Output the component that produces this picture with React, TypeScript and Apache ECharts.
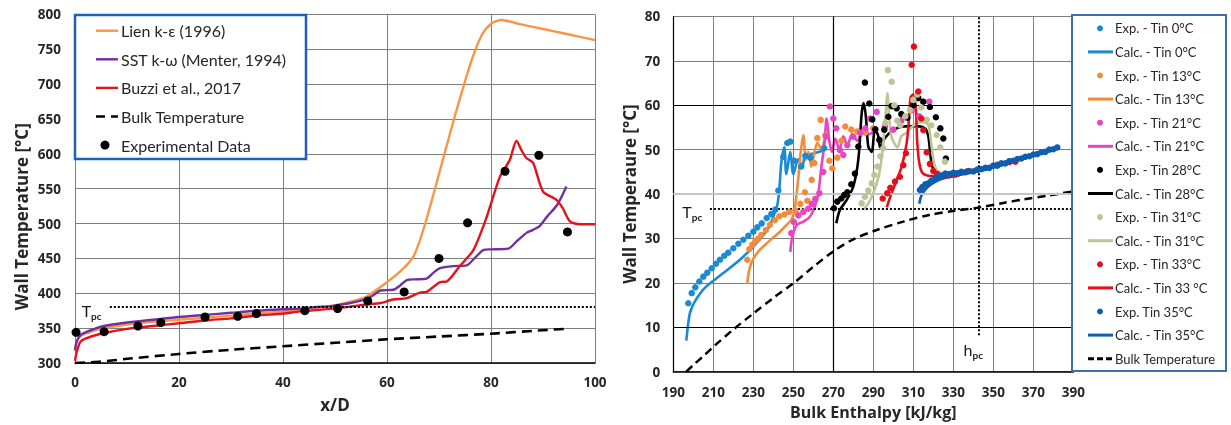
import React, { useEffect, useRef } from "react";
import * as echarts from "echarts";

const FONT = "Lato, 'Noto Sans', sans-serif";
const BOLD_FONT = "'Open Sans', 'Noto Sans', sans-serif";
const AXIS_TEXT = "#262626";
const GRID_GREY = "#7f7f7f";

// ---------- Left panel: wall temperature along the tube (x/D) ----------
const xdRange = { min: 0, max: 100, step: 20 };
const twRange = { min: 300, max: 800, step: 50 };

const lienKE: number[][] = [
  [0, 318], [0.3, 330], [1, 338], [2, 342], [5, 349], [10, 355], [15, 359], [20, 362],
  [25, 365], [30, 368], [35, 371], [40, 374], [45, 378], [50, 383], [53, 388], [56, 395],
  [59.3, 412], [62.5, 431], [65.1, 453], [67.1, 494], [69.6, 560], [72.7, 645], [76, 728],
  [78.2, 770], [80.1, 787], [82, 792], [85.6, 786], [90, 779], [93.9, 773], [100, 763],
];
const sstKW: number[][] = [
  [0, 318], [0.3, 330], [1, 340], [2, 344], [5, 352], [10, 358], [15, 362], [20, 366],
  [25, 369], [30, 372], [35, 375], [40, 377], [43.3, 378], [46, 380], [49.7, 382], [53, 386],
  [56.1, 392], [57.5, 398], [58.7, 404], [61.2, 405], [62.5, 411], [63.8, 419], [65.5, 420],
  [67.6, 421], [69, 430], [70.2, 436], [72.7, 439], [75.3, 440], [76.8, 450], [78.5, 462],
  [80, 463], [83.3, 464], [85, 475], [86.9, 487], [88.1, 491], [89.3, 496], [91, 512],
  [92, 520], [93, 530], [94.5, 553],
];
const buzzi: number[][] = [
  [0, 303], [0.3, 315], [1, 330], [2, 335], [5, 342], [10, 349], [15, 353], [20, 357],
  [25, 361], [30, 364], [35, 368], [40, 371], [43.3, 374], [49.7, 378], [54, 382], [56.1, 384],
  [58.7, 386], [61.2, 391], [63.8, 393], [66.3, 401], [67.6, 402], [70.2, 416], [71.5, 417],
  [74, 439], [76.6, 462], [79.1, 508], [81.7, 567], [83.6, 591], [84.9, 619], [85.8, 606],
  [86.8, 594], [88.1, 587], [90, 546], [92.6, 534], [93.8, 522], [95.2, 503], [97.1, 499],
  [100, 499],
];
const bulkLeft: number[][] = [
  [0, 300], [5, 302], [10, 306], [20, 313], [30, 319], [40, 324], [50, 329], [60, 334],
  [70, 338], [80, 342], [90, 347], [94.5, 349],
];
const expLeft: number[][] = [
  [0.2, 344], [5.6, 345], [12.1, 353], [16.5, 358], [25, 366], [31.3, 367], [34.9, 371],
  [44.2, 375], [50.5, 378], [56.3, 389], [63.3, 402], [70, 450], [75.5, 501], [82.7, 575],
  [89.2, 598], [94.7, 488],
];
const tpcLeft = 381;
const tpcLeftFrom = 6.7;
const tpcLeftLabelAt = [3.2, 376];

// ---------- Right panel: wall temperature vs bulk enthalpy ----------
const hRange = { min: 190, max: 390, step: 20 };
const twRangeR = { min: 0, max: 80, step: 10 };

const exp0: number[][] = [
  [197.5, 15.4], [199.2, 17.7], [201, 19], [203, 20.3], [205, 21.4], [207, 22.3], [209.2, 23.3],
  [211.3, 24.3], [213.3, 25.2], [215.5, 26.1], [217.5, 26.8], [220, 27.8], [222.5, 28.8],
  [225, 29.7], [227.5, 30.6], [230, 31.5], [232, 32.5], [234.2, 33.4], [236.7, 34.6],
  [239, 35.5], [241, 36.5], [242.5, 40.8], [245, 48.4], [247, 51.5], [248.5, 51.8],
  [250.5, 47.5], [254, 46.2], [256, 48.6], [258.5, 48.2], [265.5, 50.3],
];
const calc0: number[][] = [
  [196.5, 7], [197.5, 11], [198.5, 13.5], [201, 16], [206, 19], [215, 22.2], [225, 25.9],
  [233, 29.7], [238, 32.7], [240.5, 35.5], [242, 37.5], [243, 41], [244, 47], [245.5, 50.5],
  [246.5, 44.5], [248.5, 49.5], [250, 44.5], [252.5, 47.8], [254.5, 46.2], [256, 48.8],
  [259, 49], [265, 49.8],
];
const exp13: number[][] = [
  [227, 25.2], [228, 27.6], [229.5, 28.6], [231, 29.4], [232.5, 30], [234, 30.8], [236.3, 31.9],
  [238.3, 33.1], [240.8, 34.1], [243, 35], [245.5, 35.4], [248, 36], [251, 36.3], [253.5, 37.8],
  [255.8, 40.4], [257, 38.5], [259.2, 43.2], [260.5, 47], [262, 52.6], [263.7, 56.7],
  [266, 53.2], [268, 47.5], [269.5, 45.8], [272, 48.2], [274, 52], [276, 55.2], [279, 54.5],
  [282, 54.1], [286, 53.8], [290, 54.8],
];
const calc13: number[][] = [
  [227, 19.8], [227.6, 22], [228.5, 23.8], [230, 25.4], [233, 27.3], [236.7, 28.9], [240, 30.2],
  [243.3, 31.5], [246.5, 33], [249, 34.2], [250.5, 36], [251.3, 38.7], [252.5, 43.6],
  [253.7, 49.5], [255, 53.3], [256.3, 47.7], [257.5, 49.5], [259, 46.2], [260.5, 49.2],
  [262, 51.5], [264, 50.2], [266, 52.5], [268, 53],
];
const exp21: number[][] = [
  [249, 31.2], [250.3, 33.7], [252.5, 35.2], [255, 36], [257.5, 36.7], [259.2, 37.8], [261, 38.9],
  [263, 40.2], [265, 45], [266.5, 53], [268.3, 59.7], [270, 57], [271.5, 54.8], [273.3, 49.9],
  [275, 48.8], [277, 51], [280, 52.9], [283.5, 53.8], [286, 54.8], [288.3, 57], [291.7, 58.5],
  [295.8, 55.2], [300, 54.5], [304, 56.5], [309.2, 58.9], [313, 57.5], [318, 60.8],
];
const calc21: number[][] = [
  [248.5, 27], [249.5, 30.4], [251.7, 33], [255, 33.8], [258.3, 34.9], [260.8, 37.2],
  [262.5, 40.2], [264, 46], [265.5, 51], [266.7, 57], [268, 52], [269.3, 49.5], [271, 52.5],
  [273, 50], [275, 53], [277, 51], [279.5, 53.5], [282, 52], [285, 54], [288, 53.5], [291, 54.5],
];
const exp28: number[][] = [
  [270.3, 36.8], [272, 38.3], [274, 39], [275.5, 39.8], [277, 40.4], [279, 42.2], [280.8, 44.6],
  [282.5, 50.7], [285.8, 65.1], [288, 60.4], [289.5, 56.8], [291, 54.6], [293, 52.2],
  [295.5, 54.5], [297.5, 57.4], [299.2, 59.8], [301.7, 59.3], [304, 58], [307, 57.2], [310, 60],
  [312.5, 61.6], [315, 60.8], [318.3, 59.6], [321.3, 57.3], [323.5, 54.8], [325, 52.5],
  [326.3, 48],
];
const calc28: number[][] = [
  [271.5, 33.4], [273.3, 36.4], [276.7, 38.7], [280, 41.7], [282.5, 47.7], [284.2, 58.2],
  [285.2, 60.5], [286.3, 57.4], [287.5, 50.7], [289.2, 49.5], [290.8, 54.4], [292.3, 53.3],
  [293.5, 50.5], [295.8, 52.6], [300, 54.4], [305, 55.2], [311.7, 55.3], [315.8, 54.8],
  [317.5, 53], [318.5, 49], [319.5, 46.2], [321, 45], [326, 44.4], [331, 44.3],
];
const exp31: number[][] = [
  [284.2, 37.9], [285.8, 39.4], [287.5, 40.8], [289.2, 42.4], [290.5, 44.3], [292, 46.2],
  [293.5, 48.5], [295, 50.3], [296, 56], [297.3, 67.9], [299.2, 65.3], [300.5, 60], [302, 56.5],
  [303.5, 55.5], [306, 57.5], [308.3, 58.9], [310, 61.2], [312, 62.4], [314, 59.5],
  [316.7, 56.7], [319, 55.5], [321.7, 53.3], [323.5, 50.5], [325.8, 47.3],
];
const calc31: number[][] = [
  [285, 36.4], [287.5, 37.9], [290, 40.2], [292.5, 43.7], [294, 47.5], [295.2, 52.5],
  [296.2, 58], [297, 62.7], [298, 57], [299, 53], [300.5, 51.4], [302, 50.5], [304, 53],
  [306.7, 53.8], [309, 55], [312, 56], [315, 56.2], [317.5, 55.5], [318.8, 52], [320, 48],
  [321.5, 45.5], [325, 44.6], [330, 44.3],
];
const exp33: number[][] = [
  [294.7, 39], [297, 40.2], [298.5, 41.4], [300.8, 42.8], [303.3, 43.9], [305, 46.5],
  [306.3, 49.2], [309.2, 69.1], [310.3, 73.2], [312.5, 63.1], [314, 57], [315, 54.4],
  [316.7, 49.4], [318.3, 46.8], [320, 45.2], [322, 44.5], [326, 44.2], [331, 44.4],
  [337, 45.1], [352, 46.6], [358, 47.2], [361, 47.3],
];
const calc33: number[][] = [
  [296.7, 37], [299, 40], [301.7, 43.2], [304.2, 46.2], [306.7, 51.5], [307.8, 56.7],
  [308.7, 61.8], [310, 62.4], [311.2, 59.5], [312, 51.5], [313, 47], [314.5, 44.8], [317, 44.2],
  [322, 44], [327, 43.8], [333, 44.2],
];
const exp35: number[][] = [
  [313.3, 40.9], [314.5, 41.6], [316, 42.2], [317.5, 42.4], [319, 43], [320.5, 43.3], [322, 43.9],
  [324, 44.1], [326, 44.6], [328, 44.5], [330, 44.8], [332, 44.7], [334, 45], [336, 44.9],
  [338, 45.2], [340, 45.1], [342, 45.5], [344, 45.6], [346, 45.9], [348, 45.9], [350, 46.4],
  [352, 46.4], [354, 46.9], [356, 46.9], [358, 47.4], [360, 47.5], [362, 47.9], [364, 48],
  [366, 48.4], [368, 48.5], [370, 48.9], [372, 49], [374, 49.4], [376, 49.5], [378, 50],
  [380, 50.1], [382, 50.5],
];
const calc35: number[][] = [
  [313, 37.8], [314, 39.6], [316, 41], [319, 42.2], [323, 43.2], [328, 43.9], [333, 44.3],
  [340, 44.9], [346, 45.5], [352, 46.2], [358, 47], [364, 47.8], [370, 48.6], [376, 49.4],
  [382, 50.2],
];
const bulkRight: number[][] = [
  [196.5, 0], [200, 1.5], [205, 3.5], [210, 5.6], [220, 9.5], [230, 13.1], [240, 16.6],
  [250, 19.9], [260, 23.6], [270, 27.1], [280, 29.8], [291.7, 31.9], [305, 33.8], [318, 35.3],
  [330, 36.2], [343, 37], [355, 38], [365, 38.8], [378, 39.7], [390, 40.6],
];
const tpcRight = 36.8;
const tpcRightFrom = 208.3;
const tpcRightLabelAt = [199.5, 36];
const hpcRight = 342.5;
const hpcLineFrom = 8.2;
const hpcLabelAt = [340, 4.9];

const C = {
  lien: "#f79646",
  sst: "#7030a0",
  buzzi: "#e3131b",
  t0: "#1a8ad4",
  t13: "#f28c3a",
  t21: "#e845c0",
  t28: "#000000",
  t31: "#bcc596",
  t33: "#e3101a",
  t35: "#0d5db0",
};

type Item = { name: string; color: string; kind: "dot" | "line" | "dash"; data: number[][] };

const leftItems: Item[] = [
  { name: "Lien k-ε (1996)", color: C.lien, kind: "line", data: lienKE },
  { name: "SST k-ω (Menter, 1994)", color: C.sst, kind: "line", data: sstKW },
  { name: "Buzzi et al., 2017", color: C.buzzi, kind: "line", data: buzzi },
  { name: "Bulk Temperature", color: "#000", kind: "dash", data: bulkLeft },
  { name: "Experimental Data", color: "#000", kind: "dot", data: expLeft },
];

const rightItems: Item[] = [
  { name: "Exp. - Tin 0°C", color: C.t0, kind: "dot", data: exp0 },
  { name: "Calc. - Tin 0°C", color: C.t0, kind: "line", data: calc0 },
  { name: "Exp. - Tin 13°C", color: C.t13, kind: "dot", data: exp13 },
  { name: "Calc. - Tin 13°C", color: C.t13, kind: "line", data: calc13 },
  { name: "Exp. - Tin 21°C", color: C.t21, kind: "dot", data: exp21 },
  { name: "Calc. - Tin 21°C", color: C.t21, kind: "line", data: calc21 },
  { name: "Exp. - Tin 28°C", color: C.t28, kind: "dot", data: exp28 },
  { name: "Calc. - Tin 28°C", color: C.t28, kind: "line", data: calc28 },
  { name: "Exp. - Tin 31°C", color: C.t31, kind: "dot", data: exp31 },
  { name: "Calc. - Tin 31°C", color: C.t31, kind: "line", data: calc31 },
  { name: "Exp. - Tin 33°C", color: C.t33, kind: "dot", data: exp33 },
  { name: "Calc. - Tin 33 °C", color: C.t33, kind: "line", data: calc33 },
  { name: "Exp. Tin 35°C", color: C.t35, kind: "dot", data: exp35 },
  { name: "Calc. - Tin 35°C", color: C.t35, kind: "line", data: calc35 },
  { name: "Bulk Temperature", color: "#000", kind: "dash", data: bulkRight },
];

// "Tpc" / "hpc" with a bold lowered subscript
const subLabel = (text: string) => ({
  show: true,
  position: "inside",
  formatter: `{t|${text[0]}}{s|${text.slice(1)}}`,
  rich: {
    t: { fontSize: 16, fontFamily: FONT, color: "#1a1a1a", lineHeight: 18 },
    s: { fontSize: 10, fontFamily: FONT, fontWeight: "bold", color: "#1a1a1a", lineHeight: 10, padding: [11, 0, 0, 0] },
  },
});

function legendBox(
  box: { x: number; y: number; w: number; h: number; stroke: string; lw: number },
  items: Item[],
  cfg: { y0: number; dy: number; x1: number; x2: number; dotX: number; r: number; lw: number; tx: number; fs: number; dash: number[] }
) {
  const els: any[] = [
    {
      type: "rect",
      z: 100,
      shape: { x: box.x, y: box.y, width: box.w, height: box.h },
      style: { fill: "#fff", stroke: box.stroke, lineWidth: box.lw },
    },
  ];
  items.forEach((it, i) => {
    const y = cfg.y0 + i * cfg.dy;
    if (it.kind === "dot") {
      els.push({ type: "circle", z: 101, shape: { cx: cfg.dotX, cy: y, r: cfg.r }, style: { fill: it.color } });
    } else {
      els.push({
        type: "line",
        z: 101,
        shape: { x1: cfg.x1, y1: y, x2: cfg.x2, y2: y },
        style: { stroke: it.color, lineWidth: cfg.lw, lineDash: it.kind === "dash" ? cfg.dash : null },
      });
    }
    els.push({
      type: "text",
      z: 101,
      x: cfg.tx,
      y,
      style: { text: it.name, fontSize: cfg.fs, fontFamily: FONT, fill: "#262626", verticalAlign: "middle" },
    });
  });
  return els;
}

const tickLabel = (margin: number) => ({
  fontSize: 13.5,
  fontWeight: "bold",
  fontFamily: BOLD_FONT,
  color: AXIS_TEXT,
  margin,
});
const axisName = (size: number) => ({ fontSize: size, fontWeight: "bold", fontFamily: BOLD_FONT, color: AXIS_TEXT });

export default function App() {
  const ref = useRef<HTMLDivElement>(null);

  useEffect(() => {
    if (!ref.current) return;
    const chart = echarts.init(ref.current, undefined, { renderer: "svg" });

    const leftSeries: any[] = leftItems.map((it) => {
      if (it.kind === "dot") {
        return {
          name: it.name, type: "scatter", xAxisIndex: 0, yAxisIndex: 0, data: it.data,
          symbolSize: 9, itemStyle: { color: it.color, opacity: 1 }, z: 5,
        };
      }
      const s: any = {
        name: it.name, type: "line", xAxisIndex: 0, yAxisIndex: 0, data: it.data,
        showSymbol: false, smooth: 0.25, z: 3,
        lineStyle: { color: it.color, width: it.kind === "dash" ? 2.6 : 2.4, type: it.kind === "dash" ? [10, 6] : "solid" },
      };
      if (it.kind === "dash") {
        s.markLine = {
          silent: true, symbol: "none", label: { show: false },
          lineStyle: { type: "dotted", color: "#000", width: 2 },
          data: [[{ coord: [tpcLeftFrom, tpcLeft] }, { coord: [xdRange.max, tpcLeft] }]],
        };
        s.markPoint = {
          silent: true, symbol: "circle", symbolSize: 0,
          data: [{ coord: tpcLeftLabelAt, label: subLabel("Tpc") }],
        };
      }
      return s;
    });

    const rightSeries: any[] = rightItems.map((it) => {
      if (it.kind === "dot") {
        return {
          name: it.name, type: "scatter", xAxisIndex: 1, yAxisIndex: 1, data: it.data,
          symbolSize: 6.5, itemStyle: { color: it.color, opacity: 1 }, z: 5,
        };
      }
      const s: any = {
        name: it.name, type: "line", xAxisIndex: 1, yAxisIndex: 1, data: it.data,
        showSymbol: false, smooth: 0.3, z: 4,
        lineStyle: { color: it.color, width: it.kind === "dash" ? 2.5 : 2.6, type: it.kind === "dash" ? [8, 5] : "solid" },
      };
      if (it.kind === "dash") {
        s.markLine = {
          silent: true, symbol: "none", label: { show: false },
          lineStyle: { type: "dotted", color: "#000", width: 2 },
          data: [
            [{ coord: [tpcRightFrom, tpcRight] }, { coord: [hRange.max, tpcRight] }],
            [{ coord: [hpcRight, hpcLineFrom] }, { coord: [hpcRight, twRangeR.max] }],
          ],
        };
        s.markPoint = {
          silent: true, symbol: "circle", symbolSize: 0,
          data: [
            { coord: tpcRightLabelAt, label: subLabel("Tpc") },
            { coord: hpcLabelAt, label: subLabel("hpc") },
          ],
        };
      }
      return s;
    });

    // heavier and lighter grid lines of the enthalpy panel
    const gridAccent = {
      name: "grid accents", type: "line", xAxisIndex: 1, yAxisIndex: 1, data: [], z: 1,
      markLine: {
        silent: true, symbol: "none", label: { show: false },
        data: [
          { xAxis: 270, lineStyle: { color: "#000", width: 1.2, type: "solid" } },
          { yAxis: 60, lineStyle: { color: "#000", width: 1.2, type: "solid" } },
          { yAxis: 10, lineStyle: { color: "#000", width: 1.2, type: "solid" } },
          { yAxis: 40, lineStyle: { color: "#c4c4c4", width: 2, type: "solid" } },
        ],
      },
    };

    chart.setOption({
      animation: false,
      textStyle: { fontFamily: FONT },
      grid: [
        { left: 75, top: 14.4, width: 520, height: 348.6 },
        { left: 673.3, top: 16.4, width: 400, height: 355.3 },
      ],
      xAxis: [
        {
          type: "value", gridIndex: 0, min: xdRange.min, max: xdRange.max, interval: xdRange.step,
          axisLine: { show: true, onZero: false, lineStyle: { color: "#000", width: 1.5 } },
          axisTick: { show: false },
          splitLine: { show: true, lineStyle: { color: GRID_GREY, width: 1 } },
          axisLabel: tickLabel(12),
          name: "x/D", nameLocation: "middle", nameGap: 33, nameTextStyle: axisName(17),
        },
        {
          type: "value", gridIndex: 1, min: hRange.min, max: hRange.max, interval: hRange.step,
          axisLine: { show: true, onZero: false, lineStyle: { color: "#000", width: 1.5 } },
          axisTick: { show: false },
          splitLine: { show: true, lineStyle: { color: GRID_GREY, width: 1 } },
          axisLabel: tickLabel(13),
          name: "Bulk Enthalpy [kJ/kg]", nameLocation: "middle", nameGap: 26, nameTextStyle: axisName(16),
        },
      ],
      yAxis: [
        {
          type: "value", gridIndex: 0, min: twRange.min, max: twRange.max, interval: twRange.step,
          axisLine: { show: true, onZero: false, lineStyle: { color: GRID_GREY, width: 1 } },
          axisTick: { show: false },
          splitLine: { show: true, lineStyle: { color: GRID_GREY, width: 1 } },
          axisLabel: tickLabel(14),
          name: "Wall Temperature [°C]", nameLocation: "middle", nameGap: 45,
          nameTextStyle: { ...axisName(17), padding: [0, 56, 0, 0] },
        },
        {
          type: "value", gridIndex: 1, min: twRangeR.min, max: twRangeR.max, interval: twRangeR.step,
          axisLine: { show: true, onZero: false, lineStyle: { color: "#000", width: 1.2 } },
          axisTick: { show: false },
          splitLine: { show: true, lineStyle: { color: GRID_GREY, width: 1 } },
          axisLabel: tickLabel(13),
          name: "Wall Temperaure [°C]", nameLocation: "middle", nameGap: 35, nameTextStyle: axisName(17),
        },
      ],
      graphic: [
        ...legendBox(
          { x: 75, y: 15, w: 231, h: 144, stroke: "#1f5fb4", lw: 2.5 },
          leftItems,
          { y0: 30.7, dy: 28.6, x1: 96, x2: 118, dotX: 105, r: 4.5, lw: 2.4, tx: 121, fs: 16, dash: [9, 6] }
        ),
        ...legendBox(
          { x: 1072, y: 15, w: 154, h: 356, stroke: "#3d6eb0", lw: 2 },
          rightItems,
          { y0: 28.3, dy: 23.6, x1: 1088, x2: 1113, dotX: 1100, r: 3, lw: 3, tx: 1115, fs: 13, dash: [6, 3] }
        ),
      ],
      series: [...leftSeries, gridAccent, ...rightSeries],
    });

    return () => chart.dispose();
  }, []);

  return <div ref={ref} style={{ position: "fixed", left: 0, top: 0, width: 1231, height: 425 }} />;
}
